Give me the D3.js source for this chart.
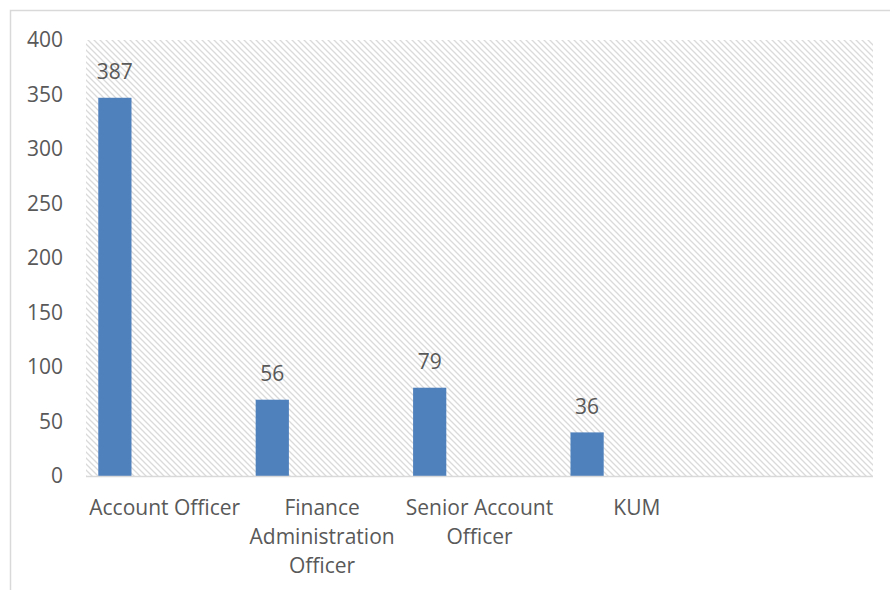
<!DOCTYPE html>
<html lang="en">
	<head>
		<meta charset="utf-8">
		<title>Bar chart</title>
		<script src="https://cdn.jsdelivr.net/npm/d3@7"></script>
		<style>
			body { margin: 0; background: #fff; }
			text {
				font-family: "Open Sans", sans-serif;
				font-size: 21px;
				fill: #595959;
			}
		</style>
	</head>
	<body>
		<script>

			let w = 890;
			let h = 590;

			// data
			let categories = ["Account Officer", "Finance Administration Officer", "Senior Account Officer", "KUM", ""];
			let barValues = [347, 70, 81, 40];
			let dataLabels = ["387", "56", "79", "36"];
			let yTicks = [0, 50, 100, 150, 200, 250, 300, 350, 400];

			let plot = { left: 86, top: 40, right: 873, bottom: 476 };

			let svg = d3.select("body")
						.append("svg")
						  .attr("width", w)
						  .attr("height", h);

			// hatch pattern for plot area
			let pat = svg.append("defs")
						.append("pattern")
						  .attr("id", "hatch")
						  .attr("patternUnits", "userSpaceOnUse")
						  .attr("width", 6)
						  .attr("height", 6);
			pat.append("rect").attr("width", 6).attr("height", 6).attr("fill", "#fff");
			pat.append("path")
			      .attr("d", "M0,0L6,6M-1,5L1,7M5,-1L7,1")
			      .attr("stroke", "#dadada")
			      .attr("stroke-width", 1.3);

			// chart frame (runs off the right and bottom edges)
			svg.append("rect")
			      .attr("x", 10.5)
			      .attr("y", 10.5)
			      .attr("width", w)
			      .attr("height", h)
			      .attr("fill", "none")
			      .attr("stroke", "#d9d9d9")
			      .attr("stroke-width", 1.5);

			let x = d3.scaleBand()
						.domain(categories)
						.range([plot.left, plot.right]);

			// 4 series slots per category, only the first one is used
			let xInner = d3.scaleBand()
						.domain([0, 1, 2, 3])
						.range([0, x.bandwidth()])
						.paddingOuter(0.37);

			let y = d3.scaleLinear()
						.domain([0, 400])
						.range([plot.bottom, plot.top]);

			svg.append("rect")
			      .attr("x", plot.left)
			      .attr("y", plot.top)
			      .attr("width", plot.right - plot.left)
			      .attr("height", plot.bottom - plot.top)
			      .attr("fill", "url(#hatch)");

			// y axis labels
			let yAxis = d3.axisLeft(y).tickValues(yTicks).tickSize(0).tickPadding(0);
			let gy = svg.append("g")
						  .attr("transform", "translate(63,0)")
						  .call(yAxis);
			gy.select(".domain").remove();

			// bars
			svg.selectAll("rect.bar")
			    .data(barValues)
			    .enter()
			  .append("rect")
			    .attr("class", "bar")
			    .attr("x", (d, i) => x(categories[i]) + xInner(0))
			    .attr("y", d => y(d))
			    .attr("width", xInner.bandwidth())
			    .attr("height", d => y(0) - y(d))
			    .attr("fill", "#4f81bd");

			// data labels
			svg.selectAll("text.lbl")
			    .data(barValues)
			    .enter()
			  .append("text")
			    .attr("class", "lbl")
			    .attr("x", (d, i) => x(categories[i]) + xInner(0) + xInner.bandwidth() / 2)
			    .attr("y", d => y(d) - 18.5)
			    .attr("text-anchor", "middle")
			    .text((d, i) => dataLabels[i]);

			// baseline
			svg.append("line")
			      .attr("x1", plot.left)
			      .attr("x2", plot.right)
			      .attr("y1", y(0) + 0.5)
			      .attr("y2", y(0) + 0.5)
			      .attr("stroke", "#d9d9d9")
			      .attr("stroke-width", 1.5);

			// category labels, wrapped to band width
			let xAxis = d3.axisBottom(x).tickSize(0).tickPadding(0);
			let gx = svg.append("g")
						  .attr("transform", `translate(0,${plot.bottom})`)
						  .call(xAxis);
			gx.select(".domain").remove();
			gx.selectAll("text")
			      .attr("dy", null)
			      .call(wrap, x.bandwidth());

			function wrap(sel, width) {
				sel.each(function() {
					let t = d3.select(this);
					let words = t.text().split(/\s+/).filter(s => s);
					t.text(null);
					let line = [];
					let n = 0;
					let span = t.append("tspan").attr("x", 0).attr("y", 39);
					words.forEach(word => {
						line.push(word);
						span.text(line.join(" "));
						if (span.node().getComputedTextLength() > width && line.length > 1) {
							line.pop();
							span.text(line.join(" "));
							line = [word];
							n++;
							span = t.append("tspan")
							        .attr("x", 0)
							        .attr("y", 39 + n * 29)
							        .text(word);
						}
					});
				});
			}

		</script>
	</body>
</html>
